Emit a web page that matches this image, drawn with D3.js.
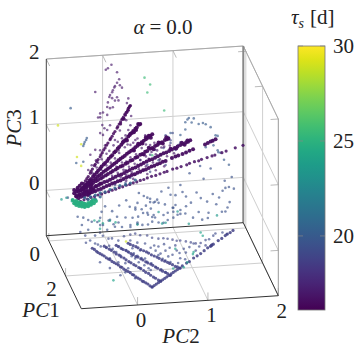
<!DOCTYPE html>
<html>
<head>
<meta charset="utf-8">
<script src="https://cdn.jsdelivr.net/npm/d3@7"></script>
<style>
body { margin: 0; background: #fff; }
text { font-family: "Liberation Serif", serif; font-size: 21px; fill: #222; }
</style>
</head>
<body>
<div id="chart"></div>
<script>
var width = 360;
var height = 350;

var pc1Ticks = [0, 2];
var pc2Ticks = [0, 1, 2];
var pc3Ticks = [0, 1, 2];
var colorTicks = [20, 25, 30];

// every group is [pc2, pc3] pairs
var rayA = [[-.30,.15],[-.28,.19],[-.26,.22],[-.24,.25],[-.21,.30],[-.20,.33],[-.18,.36],[-.15,.41],[-.14,.43],[-.12,.47],[-.10,.50],[-.07,.54],[-.06,.57],[-.04,.60],[-.02,.64],[.00,.67],[.02,.71],[.04,.74],[.07,.79],[.08,.81],[.10,.84],[.12,.88],[.14,.91],[.17,.96],[.18,.98],[.20,1.02],[.22,1.05],[.24,1.09],[.26,1.12],[.28,1.16],[.30,1.19],[.32,1.22],[.33,1.25],[.34,1.26],[.35,1.28],[.36,1.29],[.33,1.22],[.31,1.19],[.29,1.15],[.27,1.09],[.25,1.09],[.22,1.02]];
var rayB = [[-.32,.08],[-.30,.10],[-.27,.13],[-.25,.16],[-.22,.19],[-.20,.21],[-.17,.25],[-.15,.27],[-.12,.30],[-.10,.33],[-.07,.36],[-.05,.39],[-.02,.42],[.00,.44],[.03,.47],[.05,.50],[.08,.53],[.10,.55],[.13,.59],[.15,.61],[.18,.65],[.20,.67],[.23,.70],[.25,.73],[.28,.76],[.30,.78],[.33,.82],[.35,.84],[.38,.87],[.40,.90],[.43,.93],[.45,.95],[.48,.99],[.50,1.00],[.47,1.00],[.44,.91],[.41,.88],[.36,.86],[.31,.76],[.26,.75]];
var rayC = [[-.35,.05],[-.32,.07],[-.29,.10],[-.26,.12],[-.23,.14],[-.20,.17],[-.17,.19],[-.14,.21],[-.11,.24],[-.08,.26],[-.05,.28],[-.02,.31],[.01,.33],[.04,.35],[.07,.37],[.10,.40],[.13,.42],[.16,.44],[.19,.47],[.22,.49],[.25,.51],[.28,.53],[.31,.56],[.34,.58],[.37,.60],[.40,.62],[.43,.65],[.46,.67],[.49,.69],[.52,.72],[.55,.74],[.58,.76],[.61,.78],[.64,.81],[.67,.83],[.65,.78],[.62,.81],[.58,.79],[.53,.70],[.47,.70],[.41,.60]];
var rayD = [[-.38,.03],[-.34,.05],[-.31,.07],[-.27,.09],[-.24,.11],[-.20,.13],[-.17,.15],[-.13,.17],[-.10,.19],[-.06,.21],[-.03,.23],[.01,.25],[.04,.27],[.08,.29],[.11,.31],[.15,.33],[.18,.35],[.22,.37],[.25,.38],[.29,.41],[.32,.42],[.36,.45],[.39,.46],[.43,.49],[.46,.50],[.50,.53],[.53,.54],[.57,.57],[.60,.58],[.64,.61],[.67,.62],[.71,.65],[.74,.66],[.78,.69],[.81,.70],[.85,.73],[.88,.74],[.90,.75],[.87,.77],[.82,.68],[.76,.70],[.69,.60],[.62,.63],[.55,.53]];
var rayE = [[-.41,-.04],[-.37,-.02],[-.33,.00],[-.29,.02],[-.25,.03],[-.21,.05],[-.17,.07],[-.13,.09],[-.09,.11],[-.05,.13],[-.01,.15],[.03,.16],[.07,.18],[.11,.20],[.15,.22],[.19,.24],[.23,.25],[.27,.27],[.31,.29],[.35,.31],[.39,.33],[.43,.34],[.47,.36],[.51,.38],[.55,.40],[.59,.42],[.63,.44],[.67,.45],[.71,.47],[.75,.49],[.79,.51],[.83,.53],[.87,.54],[.91,.56],[.95,.58],[.99,.60],[1.03,.62],[1.07,.64],[1.11,.65],[1.15,.67],[1.18,.68],[1.21,.70],[1.17,.70],[1.13,.64],[1.09,.67],[1.01,.59],[.93,.59]];
var rayF = [[-.38,-.07],[-.34,-.05],[-.30,-.04],[-.26,-.02],[-.22,-.01],[-.18,.01],[-.14,.02],[-.10,.04],[-.06,.05],[-.02,.07],[.02,.09],[.06,.10],[.10,.12],[.14,.13],[.18,.15],[.22,.16],[.26,.18],[.30,.20],[.34,.21],[.38,.23],[.42,.24],[.46,.26],[.50,.27],[.54,.29],[.58,.30],[.62,.32],[.66,.34],[.70,.35],[.74,.37],[.78,.38],[.82,.40],[.86,.41],[.95,.45],[1.0,.47],[1.04,.48],[1.10,.50],[1.15,.52],[1.2,.54],[1.25,.56],[1.42,.62],[1.46,.64],[1.50,.66],[1.53,.67],[1.57,.69]];
var rayG = [[-.35,-.12],[-.30,-.10],[-.25,-.09],[-.20,-.07],[-.15,-.06],[-.10,-.04],[-.05,-.03],[.00,-.01],[.05,.00],[.10,.02],[.15,.03],[.20,.05],[.25,.06],[.30,.08],[.35,.09],[.40,.11],[.45,.12],[.50,.14],[.55,.15],[.60,.17],[.66,.19],[.72,.20],[.78,.22],[.84,.24],[.88,.25],[.96,.28],[1.02,.29],[1.08,.31],[1.16,.33],[1.2,.35],[1.27,.37],[1.33,.38],[1.37,.40],[1.45,.42],[1.52,.44],[1.56,.45],[1.66,.48],[1.72,.50],[1.85,.54],[1.96,.57]];
var fanCore = [[-.44,.06],[-.41,.03],[-.44,.01],[-.39,.09],[-.36,.12],[-.33,.15],[-.29,.11],[-.24,.14],[-.21,.09],[-.19,.12],[-.30,.05],[-.26,.02],[-.21,.01],[-.16,.04],[-.13,.10],[-.07,.13],[-.41,-.03],[-.36,-.02],[-.30,-.01],[-.24,-.03],[-.39,.06],[-.33,.08],[-.27,.08],[-.20,.06]];
var fanCloud = [[.01,1.86],[.04,1.88],[.09,1.93],[.17,1.81],[.20,1.70],[.17,1.65],[.14,1.60],[.21,1.61],[.24,1.57],[.11,1.54],[.07,1.47],[.10,1.42],[.17,1.43],[.04,1.36],[.14,1.38],[.19,1.38],[.03,1.29],[.07,1.27],[.11,1.28],[-.07,1.20],[-.07,1.14],[-.03,1.21],[.33,1.40],[.31,1.33],[.03,1.17],[-.10,1.14],[-.14,1.53],[-.04,1.02],[-.07,.90],[-.01,.97],[.13,1.58],[.10,1.51],[.06,1.44],[.27,1.10],[.30,1.07],[.37,1.13],[-.03,.87],[-.14,.65],[-.21,.58],[-.07,.64],[.00,.71],[-.19,.42],[-.24,.35],[-.13,.49],[.07,1.01],[.03,.94],[.21,.92],[.29,.84],[.14,.78],[.36,.99],[.33,.92],[.21,.47],[.36,.69],[.43,.76],[.57,.82],[.64,.67],[.76,.66],[.29,.31],[.19,.62]];
var fanHalo = [[-.10,.45],[-.05,.50],[.02,.58],[.06,.62],[.12,.70],[.18,.75],[.24,.80],[.28,.66],[.20,.58],[.14,.50],[.08,.44],[.02,.40],[-.06,.34],[-.12,.38],[-.18,.30],[.32,.70],[.40,.72],[.46,.78],[.52,.63],[.58,.68],[.44,.54],[.36,.50],[.30,.44],[.24,.43],[.16,.37],[.70,.70],[.66,.56],[.74,.58],[.80,.62],[.58,.50],[.50,.45],[.42,.40],[.34,.36],[.26,.32],[.18,.28],[.10,.24],[.84,.63],[.92,.64],[.72,.52],[.62,.46],[.54,.41],[.46,.38],[.38,.27],[.30,.24],[.22,.21],[.98,.52],[.88,.48],[.78,.44],[.68,.40],[.58,.35],[.48,.31],[.40,.17],[.30,.15],[.60,.23],[.72,.28],[.84,.33]];
var fanSlate = [[.50,.45],[.60,.37],[.71,.59],[.83,.61],[.93,.68],[.96,.83],[.93,.72],[.86,.80],[.54,.30],[.64,.26],[.36,.19],[.29,.12],[.14,.10],[.43,.23],[.79,.51],[.64,.52],[.86,.35],[1.0,.57],[1.04,.64],[.76,.43]];
var fanTeal = [[-.29,-.07],[-.21,-.06],[-.14,-.04],[-.07,-.01],[.00,.00],[.07,.03],[.14,.05],[.21,.08],[.29,.09],[.36,.11],[.43,.15],[-.14,-.10],[-.07,-.07],[-.24,-.10],[-.19,-.12]];
var arcRight = [[1.14,.98],[1.19,1.04],[1.26,1.03],[1.14,.87],[1.17,1.02],[1.23,.97],[1.33,.94],[1.39,.95],[1.43,.93],[1.50,.88],[1.57,.75],[1.60,.74],[1.53,.68],[1.54,.60],[1.43,.58],[1.60,.52],[1.64,.48],[1.69,.37],[1.76,.29],[1.61,.49],[1.07,.79],[1.07,.68],[.93,.83],[.90,.77],[-.49,1.31],[-.26,.84],[-.29,.78],[-.31,.72],[-.27,.81],[-.30,.75],[-.41,.47],[-.31,.48]];
var wallScatter = [[1.07,.03],[1.10,-.08],[1.36,-.19],[1.53,-.14],[1.67,-.10],[1.71,-.06],[1.76,-.05],[1.83,-.08],[1.77,-.28],[1.74,-.36],[1.71,-.42],[1.66,-.42],[1.33,-.40],[1.47,-.42],[1.46,-.50],[1.07,-.35],[.97,-.31],[.93,-.11],[.64,-.15],[.69,-.21],[.76,-.22],[.43,-.27],[.47,-.41],[.60,-.36],[.69,-.40],[.83,-.41],[.89,-.38],[.97,-.37],[1.14,-.41],[1.07,-.41],[.67,-.50],[.83,-.53],[.76,-.52],[.46,-.52],[.36,-.56],[.97,-.46],[-.53,-.05],[-.47,-.09],[-.43,-.15],[.43,-.30],[.46,-.20],[.54,-.36],[.61,-.39],[.67,-.43],[.71,-.44],[.60,-.13],[.64,-.20],[.71,-.20],[.74,-.17],[.17,-.39],[.19,-.48],[.29,-.41],[.39,-.42],[.46,-.50],[.07,-.43],[-.07,-.39],[.96,-.31],[.89,-.49],[1.0,-.27],[1.03,-.42],[-.39,-.35],[-.31,-.37],[-.24,-.41],[-.19,-.44],[-.33,-.48],[-.24,-.56],[-.03,-.50],[.03,-.58],[.14,-.54],[.24,-.55],[.36,-.53],[.53,-.54],[.61,-.54],[-.11,-.45],[-.07,-.50],[.48,-.05],[.55,-.10],[.80,-.05],[.90,.00],[1.00,-.12],[1.15,-.15],[1.22,-.25],[1.30,-.10],[1.45,-.25],[1.58,-.30],[.30,-.15],[.20,-.22],[.10,-.30],[.35,-.25],[.52,-.30],[.58,-.25],[.65,-.30],[.85,-.25],[1.15,-.30],[1.25,-.48],[1.38,-.52],[1.62,-.20],[1.70,.05],[1.80,.10],[1.40,.10],[1.20,.20],[1.35,.30],[1.50,.25],[-.05,-.30],[.00,-.22],[.05,-.44],[.12,-.50]];
var wallTeal = [[1.03,-.37],[1.59,-.47],[1.19,-.57],[.86,-.53],[.81,-.54],[.46,-.53],[.76,-.36],[-.62,-.07],[-.55,-.05],[-.47,-.11]];
var wallGreen = [[.56,1.70],[.64,1.59],[.60,1.47],[.84,1.18],[.67,.51]];
var wallYellow = [[-.67,1.06],[-.34,.75],[-.40,.56],[-.34,.42],[-.06,.38]];
var blob = [[-.46,-.09],[-.44,-.14],[-.41,-.17],[-.37,-.19],[-.33,-.20],[-.29,-.21],[-.24,-.20],[-.20,-.18],[-.16,-.16],[-.13,-.13],[-.41,-.11],[-.37,-.13],[-.33,-.14],[-.29,-.16],[-.24,-.15],[-.20,-.14],[-.17,-.11],[-.36,-.16],[-.30,-.19],[-.26,-.18],[-.39,-.15],[-.43,-.12],[-.21,-.17],[-.19,-.15],[-.34,-.17],[-.31,-.16],[-.27,-.19],[-.23,-.18]];
var lowRay1 = [[-.54,-.02],[-.51,-.04],[-.48,-.07],[-.46,-.09],[-.43,-.11],[-.40,-.13],[-.37,-.15],[-.34,-.18],[-.31,-.20],[-.29,-.21],[-.26,-.24],[-.23,-.26],[-.20,-.28],[-.17,-.30],[-.14,-.33],[-.12,-.34],[-.09,-.37],[-.06,-.39],[-.03,-.41],[.00,-.43],[.03,-.46],[.05,-.47],[.08,-.50],[.11,-.52],[.14,-.54],[.17,-.57],[.19,-.58],[.22,-.60],[.25,-.62],[.28,-.65],[.31,-.67]];
var lowRay2 = [[-.37,.00],[-.34,-.02],[-.30,-.05],[-.27,-.07],[-.23,-.10],[-.20,-.13],[-.16,-.15],[-.13,-.18],[-.09,-.20],[-.06,-.23],[-.02,-.26],[.01,-.28],[.05,-.31],[.08,-.33],[.12,-.36],[.15,-.38],[.19,-.41],[.22,-.44],[.26,-.46],[.29,-.49],[.33,-.52],[.36,-.54],[.40,-.57],[.43,-.59]];
var lowRay3 = [[-.20,.00],[-.17,-.02],[-.13,-.05],[-.10,-.07],[-.06,-.09],[-.03,-.11],[.01,-.14],[.04,-.16],[.08,-.19],[.11,-.20],[.15,-.23],[.18,-.25],[.22,-.28],[.25,-.30],[.29,-.32],[.32,-.34],[.36,-.37],[.39,-.39],[.43,-.42],[.46,-.44],[.50,-.46],[.53,-.48],[.57,-.51]];
var lowRay4 = [[-.03,.02],[.00,.00],[.04,-.02],[.08,-.04],[.11,-.06],[.15,-.09],[.19,-.11],[.23,-.13],[.26,-.15],[.30,-.18],[.34,-.20],[.38,-.22],[.41,-.24],[.45,-.27],[.49,-.29],[.53,-.31],[.56,-.33],[.60,-.35],[.64,-.38],[.67,-.39],[.71,-.41]];
var lowEdge = [[.31,-.67],[.34,-.65],[.37,-.63],[.40,-.61],[.43,-.59],[.46,-.57],[.49,-.55],[.52,-.53],[.55,-.51],[.58,-.49],[.61,-.47],[.64,-.45],[.67,-.43],[.70,-.41],[.74,-.38],[.80,-.34],[.84,-.32],[.90,-.27],[.95,-.24],[1.00,-.21],[1.05,-.17],[1.10,-.13],[1.14,-.11],[1.15,-.10],[1.16,-.09],[1.18,-.08],[1.25,-.03],[1.30,.00],[1.35,.04],[1.38,.06],[1.42,.08],[1.46,.11]];
var lowArc = [[0,.15],[.07,.16],[.14,.13],[.24,.12],[.31,.08],[.40,.06],[.47,.06],[.53,.05],[.60,.03],[.66,.01],[.71,.01],[.79,-.01],[.86,-.03],[.93,-.05],[1.0,-.05],[1.07,-.09]];
var lowScatter = [[-.71,.24],[-.64,.18],[-.57,.10],[-.63,.07],[-.50,.17],[-.43,.21],[-.39,.16],[-.31,.11],[-.26,.11],[-.17,.07],[-.09,.13],[.00,.06],[.10,.02],[.21,.00],[.29,-.07],[.36,-.12],[.14,-.10],[.03,-.06],[.21,-.23],[.07,-.22],[-.14,-.16],[-.07,-.28],[-.17,-.26],[.14,-.37],[.29,-.41],[.50,-.28],[.57,-.31],[.71,-.26],[.66,-.14],[.79,-.18],[.93,-.16],[1.07,-.01],[1.21,.08],[1.31,.09],[1.37,.06],[.43,-.17],[.50,-.13],[.64,-.06],[-.29,-.19],[-.07,-.42],[.07,-.52],[-.03,-.36],[-.43,-.24],[-.29,-.34],[-.14,-.46],[-.50,.05],[-.46,.03],[-.42,.00],[-.34,-.03],[-.30,.00],[-.25,-.05],[-.20,-.10],[-.16,-.02],[-.12,-.06],[-.06,-.08],[-.02,-.12],[.05,-.14],[.10,-.18],[.16,-.22],[.24,-.28],[.30,-.31],[.36,-.37],[.44,-.41],[.50,-.46],[.20,-.33],[.26,-.38],[.12,-.28],[.02,-.18],[.40,-.19],[.46,-.25],[.54,-.22],[.60,-.20],[.70,-.18],[.76,-.12],[.84,-.10],[.98,-.10],[.90,-.05],[.34,-.04],[.40,-.06],[.48,-.03],[.56,-.09],[1.12,.00],[1.18,.05],[.78,-.28],[.68,-.33]];
var lowTeal = [[-.51,.40],[-.44,.39],[-.39,.35],[-.29,.38],[-.21,.35],[-.43,.27],[-.24,-.53],[1.0,.11],[1.03,.06],[.90,-.18],[.89,-.21],[.64,-.11],[.61,-.41],[.76,-.40],[.81,-.33]];
var lowYellow = [[-.06,.05]];

// draw order, PC1 plane, tau and dot weight of each group
var groups = [
    {pts: wallScatter, pc1: 0, tau: 19.6, heavy: 0},
    {pts: arcRight, pc1: 0, tau: 20, heavy: 0},
    {pts: wallTeal, pc1: 0, tau: 23.5, heavy: 0},
    {pts: wallGreen, pc1: 0, tau: 25.5, heavy: 0},
    {pts: wallYellow, pc1: 0, tau: 29, heavy: 0},
    {pts: lowScatter, pc1: 3, tau: 19.3, heavy: 0},
    {pts: lowArc, pc1: 3, tau: 19, heavy: 0},
    {pts: lowRay1, pc1: 3, tau: 18.8, heavy: 1},
    {pts: lowRay2, pc1: 3, tau: 18.8, heavy: 1},
    {pts: lowRay3, pc1: 3, tau: 18.8, heavy: 1},
    {pts: lowRay4, pc1: 3, tau: 18.8, heavy: 1},
    {pts: lowEdge, pc1: 3, tau: 18.8, heavy: 1},
    {pts: lowTeal, pc1: 3, tau: 24, heavy: 0},
    {pts: lowYellow, pc1: 3, tau: 29, heavy: 0},
    {pts: fanSlate, pc1: 0, tau: 19.2, heavy: 0},
    {pts: fanCloud, pc1: 0, tau: 17, heavy: 0},
    {pts: fanHalo, pc1: 0, tau: 17, heavy: 0},
    {pts: rayA, pc1: 0, tau: 16.5, heavy: 1},
    {pts: rayB, pc1: 0, tau: 16.5, heavy: 2},
    {pts: rayC, pc1: 0, tau: 16.5, heavy: 2},
    {pts: rayD, pc1: 0, tau: 16.5, heavy: 2},
    {pts: rayE, pc1: 0, tau: 16.6, heavy: 2},
    {pts: rayF, pc1: 0, tau: 16.6, heavy: 2},
    {pts: rayG, pc1: 0, tau: 16.7, heavy: 1},
    {pts: fanCore, pc1: 0, tau: 16.5, heavy: 2},
    {pts: fanTeal, pc1: 0, tau: 20.5, heavy: 1},
    {pts: blob, pc1: 0, tau: 24.8, heavy: 2}
];

var dotRadius = [1.3, 1.6, 2.0];
var dotOpacity = [0.65, 0.85, 0.95];

var pc1Min = -0.3, pc1Max = 3.87;
var pc2Min = -0.8, pc2Max = 2;
var pc3Min = -0.69, pc3Max = 2;

var pc1Scale = d3.scaleLinear().domain([pc1Min, pc1Max]).range([0, 1]);
var pc2Scale = d3.scaleLinear().domain([pc2Min, pc2Max]).range([0, 1]);
var pc3Scale = d3.scaleLinear().domain([pc3Min, pc3Max]).range([0, 176.7]);

// orthographic view: A is the far left floor corner
var Ax = 46.3, Ay = 235.7;
function project(a, b, c) {
    var u = pc1Scale(a), v = pc2Scale(b);
    return [Ax + 35 * u + 197 * v, Ay + 73 * u - 13 * v - pc3Scale(c)];
}

var color = d3.scaleSequential(d3.interpolateViridis).domain([16.1, 30]);

var svg = d3.select("#chart")
            .append("svg")
            .attr("width", width)
            .attr("height", height);

function seg(p, q, stroke, w) {
    svg.append("path")
        .attr("d", d3.line()([p, q]))
        .attr("fill", "none")
        .attr("stroke", stroke)
        .attr("stroke-width", w);
}

var gridColor = "#cfcfcf";

pc3Ticks.forEach(function(z) {
    seg(project(pc1Min, pc2Min, z), project(pc1Min, pc2Max, z), gridColor, 1);
    seg(project(pc1Min, pc2Max, z), project(pc1Max, pc2Max, z), gridColor, 1);
    seg(project(pc1Min, pc2Min, z), project(pc1Min + 0.4, pc2Min, z), "#aaa", 0.8);
    seg(project(pc1Max, pc2Max, z), project(pc1Max, pc2Max - 0.11, z), "#aaa", 0.8);
});
pc2Ticks.forEach(function(b) {
    seg(project(pc1Min, b, pc3Min), project(pc1Min, b, pc3Max), gridColor, 1);
    seg(project(pc1Min, b, pc3Min), project(pc1Max, b, pc3Min), gridColor, 1);
    seg(project(pc1Min, b, pc3Max), project(pc1Min + 0.4, b, pc3Max), "#aaa", 0.8);
    seg(project(pc1Max, b, pc3Min), project(pc1Max, b, pc3Min + 0.12), "#aaa", 0.8);
});
pc1Ticks.forEach(function(a) {
    seg(project(a, pc2Min, pc3Min), project(a, pc2Max, pc3Min), gridColor, 1);
    seg(project(a, pc2Max, pc3Min), project(a, pc2Max, pc3Max), gridColor, 1);
    seg(project(a, pc2Max, pc3Max), project(a, pc2Max - 0.11, pc3Max), "#aaa", 0.8);
    seg(project(a, pc2Min, pc3Min), project(a, pc2Min, pc3Min + 0.12), "#aaa", 0.8);
});

// far box edges, grey
seg(project(pc1Min, pc2Min, pc3Max), project(pc1Min, pc2Max, pc3Max), "#aaa", 1);
seg(project(pc1Min, pc2Max, pc3Max), project(pc1Max, pc2Max, pc3Max), "#aaa", 1);
seg(project(pc1Max, pc2Max, pc3Max), project(pc1Max, pc2Max, pc3Min), "#999", 1);
seg(project(pc1Min, pc2Max, pc3Max), project(pc1Min, pc2Max, pc3Min), "#888", 2);

groups.forEach(function(g) {
    svg.append("g").selectAll("circle")
        .data(g.pts)
        .enter()
        .append("circle")
        .attr("cx", function(d) { return project(g.pc1, d[0], d[1])[0]; })
        .attr("cy", function(d) { return project(g.pc1, d[0], d[1])[1]; })
        .attr("r", dotRadius[g.heavy])
        .attr("fill", color(g.tau))
        .attr("opacity", dotOpacity[g.heavy]);
});

// dark edges on top of the points
seg(project(pc1Min, pc2Min, pc3Min), project(pc1Min, pc2Min, pc3Max), "#444", 1);
seg(project(pc1Min, pc2Min, pc3Min), project(pc1Min, pc2Max, pc3Min), "#333", 1);
seg(project(pc1Min, pc2Min, pc3Min), project(pc1Max, pc2Min, pc3Min), "#333", 1);
seg(project(pc1Max, pc2Min, pc3Min), project(pc1Max, pc2Max, pc3Min), "#333", 1);
seg(project(pc1Min, pc2Max, pc3Min), project(pc1Max, pc2Max, pc3Min), "#333", 1);

function label(x, y, anchor) {
    return svg.append("text")
        .attr("x", x)
        .attr("y", y)
        .attr("text-anchor", anchor || "middle");
}

// tick labels sit next to the projected tick
pc3Ticks.forEach(function(z) {
    var p = project(pc1Min, pc2Min, z);
    label(p[0] - 12, p[1] - 0.5).text(z);
});
pc2Ticks.forEach(function(b) {
    var p = project(pc1Max, b, pc3Min);
    label(p[0] + 3.5, p[1] + 22).text(b);
});
pc1Ticks.forEach(function(a) {
    var p = project(a, pc2Min, pc3Min);
    label(p[0] - 14, p[1] + 20).text(a);
});

var t = label(163, 34);
t.append("tspan").style("font-style", "italic").text("\u03b1");
t.append("tspan").attr("dx", 5).text("=");
t.append("tspan").attr("dx", 5).text("0.0");

var l1 = label(41, 317);
l1.append("tspan").style("font-style", "italic").text("PC");
l1.append("tspan").text("1");
var l2 = label(181, 343);
l2.append("tspan").style("font-style", "italic").text("PC");
l2.append("tspan").text("2");
var l3 = svg.append("text")
    .attr("text-anchor", "middle")
    .attr("transform", "translate(21,128) rotate(-90)");
l3.append("tspan").style("font-style", "italic").text("PC");
l3.append("tspan").text("3");

// colour bar
var barX = 298, barW = 27, barTop = 46, barBottom = 310;
var barScale = d3.scaleLinear().domain([16.1, 30]).range([barBottom, barTop]);
var grad = svg.append("defs").append("linearGradient")
    .attr("id", "viridisBar")
    .attr("x1", 0).attr("y1", 1).attr("x2", 0).attr("y2", 0);
grad.selectAll("stop")
    .data(d3.range(0, 1.001, 0.05))
    .enter()
    .append("stop")
    .attr("offset", function(d) { return d; })
    .attr("stop-color", function(d) { return d3.interpolateViridis(d); });
svg.append("rect")
    .attr("x", barX)
    .attr("y", barTop)
    .attr("width", barW)
    .attr("height", barBottom - barTop)
    .attr("fill", "url(#viridisBar)")
    .attr("stroke", "#777")
    .attr("stroke-width", 0.8);
colorTicks.forEach(function(v) {
    var y = barScale(v);
    seg([barX, y], [barX + 5, y], "#888", 0.7);
    seg([barX + barW - 5, y], [barX + barW, y], "#888", 0.7);
    label(333, y + 7, "start").text(v);
});

var head = label(291, 24, "start");
head.append("tspan").style("font-style", "italic").text("\u03c4");
head.append("tspan").attr("dy", 4).style("font-style", "italic").style("font-size", "14px").text("s");
head.append("tspan").attr("dy", -4).attr("dx", 6).text("[d]");
</script>
</body>
</html>
